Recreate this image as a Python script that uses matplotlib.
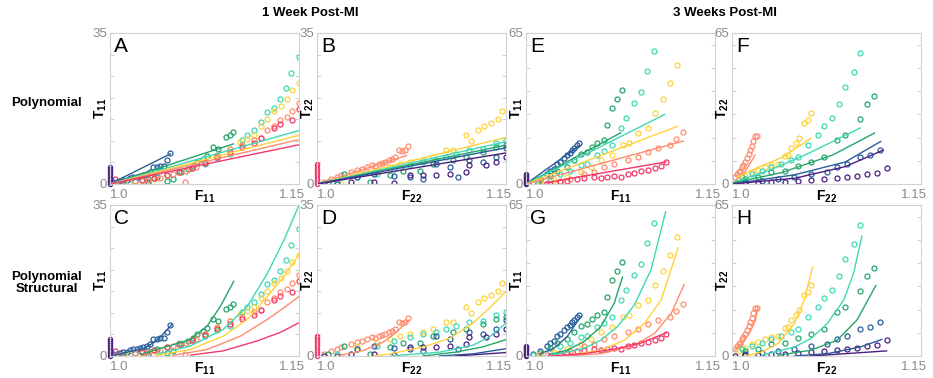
import matplotlib.pyplot as plt

plt.rcParams['font.family'] = ['Liberation Sans', 'DejaVu Sans']
plt.rcParams['mathtext.fontset'] = 'custom'
plt.rcParams['mathtext.rm'] = 'Liberation Sans'
plt.rcParams['mathtext.bf'] = 'Liberation Sans:bold'

colors = {'purple': '#4b1f82', 'blue': '#2a5d9c', 'green': '#25a56a',
          'teal': '#3ed9b5', 'yellow': '#ffd23a', 'salmon': '#ff8c6e',
          'pink': '#f2386a'}
gray = '#8a8a8a'

# ---- measured points, 1 week, T11 vs F11 (panels A, C)
w1_11 = {
    'blue': [(1.0027, 0.39), (1.0053, 0.54), (1.008, 0.78), (1.0106, 0.93), (1.0133, 1.0),
             (1.016, 1.32), (1.0186, 1.56), (1.0212, 1.71), (1.0239, 1.79), (1.0265, 2.18),
             (1.0292, 2.33), (1.0305, 0.5), (1.0319, 2.72), (1.0345, 3.89), (1.0372, 4.05),
             (1.0398, 4.28), (1.0425, 4.28), (1.0451, 5.45), (1.0478, 7.16)],
    'green': [(1.01, 0.3), (1.02, 0.8), (1.03, 1.2), (1.037, 1.6), (1.045, 0.8), (1.05, 1.2),
              (1.056, 2.7), (1.062, 3.5), (1.066, 4.2), (1.069, 5.1), (1.074, 5.8),
              (1.077, 6.6), (1.082, 8.6), (1.086, 8.2), (1.092, 10.9), (1.095, 11.3),
              (1.098, 12.1)],
    'teal': [(1.005, 0.2), (1.015, 0.5), (1.025, 1.0), (1.035, 1.5), (1.045, 2.2),
             (1.055, 3.0), (1.065, 3.8), (1.075, 4.6), (1.085, 6.0), (1.095, 7.0),
             (1.1049, 10.1), (1.1089, 11.3), (1.1142, 12.6), (1.1195, 14.4), (1.1248, 16.7),
             (1.1301, 17.7), (1.135, 19.7), (1.1394, 22.2), (1.1434, 25.7), (1.15, 29.4)],
    'yellow': [(1.015, 0.4), (1.025, 0.8), (1.035, 1.2), (1.045, 2.0), (1.055, 2.8),
               (1.065, 3.8), (1.075, 5.0), (1.085, 6.5), (1.095, 8.0), (1.1035, 9.8),
               (1.1089, 10.5), (1.1142, 11.3), (1.1195, 13.4), (1.1248, 15.0),
               (1.1301, 17.0), (1.1354, 18.0), (1.1402, 19.8), (1.1447, 21.8), (1.15, 23.5)],
    'salmon': [(1.008, 0.3), (1.02, 0.6), (1.03, 1.0), (1.04, 1.5), (1.05, 2.3),
               (1.0597, 0.4), (1.06, 3.0), (1.068, 4.0), (1.075, 5.2), (1.085, 6.8),
               (1.095, 8.0), (1.105, 9.0), (1.1142, 10.1), (1.1195, 10.7), (1.1248, 12.6),
               (1.1301, 13.4), (1.1349, 14.9), (1.1402, 15.6), (1.1447, 17.0), (1.15, 18.7)],
    'pink': [(1.004, 1.2), (1.025, 1.0), (1.035, 1.5), (1.045, 2.0), (1.055, 2.8),
             (1.065, 3.8), (1.075, 4.8), (1.085, 6.3), (1.095, 7.5), (1.105, 8.5),
             (1.114, 9.6), (1.1195, 10.6), (1.13, 12.9), (1.1349, 13.8), (1.1447, 14.9),
             (1.15, 17.3)],
}
w1_11_stack = ('purple', [0.0, 0.5, 1.0, 1.5, 2.0, 2.5, 3.0, 3.5, 3.9])

# ---- measured points, 1 week, T22 vs F22 (panels B, D)
w1_22 = {
    'salmon': [(1.0058, 0.4), (1.011, 1.2), (1.0162, 1.6), (1.0189, 2.0), (1.0267, 2.7),
               (1.032, 3.3), (1.0359, 3.5), (1.0398, 3.9), (1.0438, 4.3), (1.0464, 4.1),
               (1.049, 4.7), (1.0516, 4.8), (1.0542, 5.1), (1.0569, 5.5), (1.0595, 5.9),
               (1.0621, 6.2), (1.0647, 7.8), (1.0673, 7.7), (1.07, 7.8), (1.0726, 8.8)],
    'yellow': [(1.0189, 0.0), (1.032, 2.3), (1.0477, 3.1), (1.0582, 3.9), (1.066, 4.7),
               (1.0739, 5.1), (1.0844, 5.6), (1.0922, 6.2), (1.1027, 7.8), (1.1079, 7.8),
               (1.1184, 11.3), (1.1224, 10.0), (1.1276, 12.5), (1.1328, 13.4),
               (1.1381, 14.1), (1.1433, 15.0), (1.1472, 17.0)],
    'teal': [(1.0162, 0.4), (1.032, 1.6), (1.0477, 2.3), (1.0608, 3.5), (1.0739, 4.3),
             (1.0844, 5.1), (1.0948, 5.5), (1.1027, 6.2), (1.1106, 7.0), (1.121, 7.8),
             (1.1315, 8.2), (1.142, 9.5), (1.1499, 10.2)],
    'green': [(1.0084, 0.4), (1.0215, 2.3), (1.0424, 0.5), (1.0582, 2.0), (1.0686, 3.1),
              (1.0817, 3.1), (1.0922, 4.7), (1.1079, 5.5), (1.1184, 6.2), (1.1315, 7.4),
              (1.142, 8.6), (1.1499, 9.0)],
    'blue': [(1.0162, 0.0), (1.032, 1.6), (1.0451, 2.3), (1.0608, 1.9), (1.0739, 1.6),
             (1.0844, 1.2), (1.0948, 4.7), (1.1053, 3.9), (1.1119, 1.6), (1.121, 5.5),
             (1.1315, 5.1), (1.142, 6.2), (1.1499, 8.4)],
    'purple': [(1.0058, 0.0), (1.0267, 0.4), (1.0451, 0.4), (1.0608, 0.3), (1.0739, 2.0),
               (1.0844, 2.2), (1.0948, 2.2), (1.1053, 2.3), (1.1184, 2.7), (1.121, 4.5),
               (1.1341, 4.5), (1.142, 5.1), (1.1499, 6.2)],
}
w1_22_stack = ('pink', [0.0, 0.5, 1.0, 1.5, 2.0, 2.5, 3.0, 3.5, 4.0, 4.4, 4.7])

# ---- measured points, 3 weeks, T11 vs F11 (panels E, G)
w3_11 = {
    'blue': [(1.0059, 0.7), (1.0112, 2.2), (1.0166, 4.4), (1.0192, 5.5), (1.0219, 6.6),
             (1.0246, 8.5), (1.0272, 9.5), (1.0299, 11.0), (1.0326, 12.4), (1.0352, 13.4),
             (1.0366, 14.6), (1.0379, 15.3), (1.0406, 16.8), (1.0419, 17.5)],
    'green': [(1.0112, 1.5), (1.0192, 3.65), (1.0246, 5.5), (1.0326, 7.3), (1.0379, 10.2),
              (1.0433, 13.1), (1.0486, 13.9), (1.0526, 16.1), (1.0566, 17.5),
              (1.0619, 19.0), (1.0646, 25.6), (1.0686, 32.9), (1.0726, 36.5), (1.0758, 40.6)],
    'teal': [(1.0059, 0.3), (1.0192, 2.2), (1.0272, 4.1), (1.0352, 5.8), (1.0433, 8.0),
             (1.0486, 8.8), (1.0566, 12.4), (1.0619, 14.3), (1.0686, 16.8), (1.0753, 24.1),
             (1.0793, 28.5), (1.086, 34.7), (1.0913, 39.7), (1.0958, 48.5), (1.1015, 57.4)],
    'yellow': [(1.0112, 0.7), (1.0219, 1.75), (1.0326, 3.2), (1.0433, 5.1), (1.0513, 7.3),
               (1.0593, 10.2), (1.0686, 12.4), (1.0766, 16.8), (1.082, 17.5), (1.0886, 21.9),
               (1.0966, 24.1), (1.102, 30.7), (1.1087, 36.8), (1.114, 43.4), (1.1202, 51.1)],
    'salmon': [(1.0166, 0.3), (1.0272, 1.5), (1.0352, 2.2), (1.0459, 4.1), (1.0539, 5.1),
               (1.0619, 7.3), (1.07, 8.5), (1.0806, 10.2), (1.0886, 11.7), (1.0966, 13.9),
               (1.1047, 15.3), (1.114, 16.8), (1.119, 19.3), (1.1247, 22.2)],
    'pink': [(1.0192, 0.0), (1.0272, 0.7), (1.0326, 1.2), (1.0406, 2.2), (1.0459, 2.5),
             (1.0539, 2.9), (1.0593, 2.6), (1.0646, 2.9), (1.07, 3.65), (1.0753, 3.2),
             (1.0806, 4.4), (1.086, 4.7), (1.0913, 5.8), (1.0966, 6.1), (1.102, 7.0),
             (1.1073, 7.6), (1.1113, 9.5)],
}
w3_11_stack = ('purple', [0.0, 0.5, 1.0, 1.5, 2.0, 2.5, 3.0, 3.5, 4.0, 4.4])

# ---- measured points, 3 weeks, T22 vs F22 (panels F, H)
w3_22 = {
    'salmon': [(1.0026, 2.9), (1.0039, 4.4), (1.0052, 5.1), (1.0065, 5.8), (1.0078, 7.3),
               (1.0091, 8.0), (1.0104, 9.5), (1.0117, 11.0), (1.0131, 13.1), (1.0144, 14.6),
               (1.0157, 16.4), (1.017, 18.3), (1.0183, 20.7), (1.0196, 20.7)],
    'yellow': [(1.0052, 2.2), (1.0104, 3.65), (1.0157, 5.1), (1.0209, 6.1), (1.0261, 7.3),
               (1.0313, 8.0), (1.0365, 8.8), (1.0418, 12.0), (1.0444, 12.4), (1.047, 15.3),
               (1.0509, 17.5), (1.0535, 19.7), (1.0574, 26.3), (1.06, 27.7), (1.0626, 30.7)],
    'teal': [(1.0078, 2.9), (1.0157, 4.4), (1.0235, 5.8), (1.0313, 7.3), (1.0392, 8.8),
             (1.047, 10.2), (1.0522, 11.7), (1.06, 16.8), (1.0679, 21.2), (1.0731, 25.1),
             (1.0796, 28.5), (1.0848, 34.3), (1.09, 41.6), (1.0966, 48.2), (1.1018, 56.2)],
    'green': [(1.0104, 2.2), (1.0209, 3.2), (1.0313, 5.1), (1.0418, 5.8), (1.0522, 7.6),
              (1.0626, 9.5), (1.0731, 11.7), (1.0835, 19.0), (1.09, 21.2), (1.1018, 28.0),
              (1.1075, 34.3), (1.113, 37.9)],
    'blue': [(1.0104, 0.7), (1.0235, 1.5), (1.0365, 2.2), (1.0496, 2.9), (1.0626, 4.1),
             (1.0757, 5.1), (1.0835, 7.3), (1.0914, 8.8), (1.1018, 11.7), (1.1096, 12.4),
             (1.1175, 14.6)],
    'purple': [(1.0026, 0.0), (1.0104, 0.3), (1.0209, 0.4), (1.0313, 0.7), (1.0418, 1.0),
               (1.0522, 1.5), (1.0626, 1.75), (1.0731, 2.0), (1.0835, 2.6), (1.0914, 2.9),
               (1.0992, 3.65), (1.107, 4.1), (1.1149, 4.7), (1.1227, 6.9)],
}

# ---- fitted curves
fit_A = {
    'blue': [(1.0, 0.0), (1.048, 7.0)],
    'green': [(1.0, 0.0), (1.098, 9.3)],
    'teal': [(1.0, 0.0), (1.15, 12.4)],
    'yellow': [(1.0, 0.0), (1.15, 11.3)],
    'salmon': [(1.0, 0.0), (1.15, 10.3)],
    'pink': [(1.0, 0.0), (1.15, 9.1)],
}
fit_B = {
    'salmon': [(1.0, 0.0), (1.071, 6.6)],
    'yellow': [(1.0, 0.0), (1.15, 10.8)],
    'teal': [(1.0, 0.0), (1.15, 9.8)],
    'green': [(1.0, 0.0), (1.15, 9.0)],
    'blue': [(1.0, 0.0), (1.15, 8.4)],
    'purple': [(1.0, 0.0), (1.15, 7.2)],
}
fit_C = {
    'blue': [(1.0, 0.0), (1.0265, 1.7), (1.037, 3.5), (1.0491, 7.3)],
    'green': [(1.024, 0.4), (1.0637, 3.8), (1.077, 6.9), (1.0876, 11.5), (1.0982, 17.3)],
    'teal': [(1.037, 0.4), (1.0637, 2.3), (1.09, 6.2), (1.109, 11.5), (1.125, 19.2),
             (1.1381, 26.9), (1.15, 35.0)],
    'yellow': [(1.037, 0.15), (1.0637, 1.5), (1.09, 4.6), (1.109, 8.5), (1.125, 13.8),
               (1.1381, 18.5), (1.15, 23.5)],
    'salmon': [(1.05, 0.15), (1.077, 1.5), (1.1035, 4.6), (1.125, 8.5), (1.1381, 11.2),
               (1.15, 13.8)],
    'pink': [(1.064, 0.2), (1.09, 1.2), (1.1168, 3.5), (1.1354, 5.5), (1.15, 7.7)],
}
fit_D = {
    'salmon': [(1.0189, 0.2), (1.0372, 1.3), (1.053, 3.3), (1.0634, 5.6), (1.0726, 8.3)],
    'yellow': [(1.045, 0.0), (1.0582, 0.5), (1.0844, 2.1), (1.1053, 4.1), (1.1237, 7.6),
               (1.1368, 11.1), (1.15, 15.0)],
    'teal': [(1.058, 0.0), (1.0975, 0.9), (1.1237, 2.5), (1.1368, 4.4), (1.15, 7.6)],
    'green': [(1.084, 0.0), (1.11, 0.9), (1.1315, 2.1), (1.15, 3.8)],
    'blue': [(1.097, 0.0), (1.124, 0.5), (1.15, 1.7)],
    'purple': [(1.11, 0.0), (1.15, 0.8)],
}
fit_E = {
    'blue': [(1.0, 0.0), (1.042, 16.4)],
    'green': [(1.0, 0.0), (1.075, 22.0)],
    'teal': [(1.0, 0.0), (1.11, 29.9)],
    'yellow': [(1.0, 0.0), (1.12, 24.8)],
    'salmon': [(1.0, 0.0), (1.125, 18.5)],
    'pink': [(1.015, 0.5), (1.111, 9.5)],
}
fit_F = {
    'salmon': [(1.002, 1.0), (1.01, 5.0), (1.0183, 12.4)],
    'yellow': [(1.004, 2.9), (1.02, 7.0), (1.04, 11.5), (1.0626, 19.7)],
    'teal': [(1.0, 0.5), (1.03, 6.0), (1.06, 13.0), (1.1018, 24.1)],
    'green': [(1.0, 0.3), (1.04, 5.0), (1.08, 12.5), (1.113, 21.9)],
    'blue': [(1.0, 0.0), (1.05, 4.0), (1.09, 9.5), (1.118, 18.3)],
    'purple': [(1.0, 0.0), (1.05, 2.5), (1.09, 7.5), (1.12, 14.6)],
}
fit_G = {
    'blue': [(1.0112, 1.0), (1.0219, 3.2), (1.0326, 8.3), (1.0433, 16.9)],
    'green': [(1.0192, 0.7), (1.0326, 2.5), (1.0459, 6.1), (1.0593, 12.6), (1.07, 22.7),
              (1.0766, 34.0)],
    'teal': [(1.0192, 0.3), (1.0459, 3.2), (1.0593, 6.8), (1.0726, 12.6), (1.086, 22.0),
             (1.0993, 37.2), (1.1108, 62.1)],
    'yellow': [(1.0326, 0.3), (1.0593, 2.5), (1.078, 6.8), (1.094, 14.0), (1.1073, 24.2),
               (1.1207, 46.6)],
    'salmon': [(1.0326, 0.0), (1.0593, 1.0), (1.086, 4.6), (1.102, 9.7), (1.1153, 18.4),
               (1.1255, 30.7)],
    'pink': [(1.0192, 0.0), (1.0459, 1.0), (1.0726, 3.2), (1.0913, 5.6), (1.1113, 10.0)],
}
fit_H = {
    'salmon': [(1.0026, 2.5), (1.0091, 6.1), (1.0144, 10.4), (1.0183, 14.8), (1.0204, 20.6)],
    'yellow': [(1.0104, 0.0), (1.0235, 1.7), (1.0365, 5.4), (1.0496, 14.0), (1.0574, 24.2),
               (1.064, 38.4)],
    'teal': [(1.0235, 0.3), (1.0496, 3.9), (1.0626, 7.5), (1.0757, 14.0), (1.0888, 24.2),
             (1.0966, 35.8), (1.1031, 51.7)],
    'green': [(1.0365, 0.3), (1.0626, 2.5), (1.0835, 6.8), (1.0992, 15.5), (1.1141, 30.3)],
    'blue': [(1.0496, 0.0), (1.0757, 1.0), (1.1018, 3.9), (1.1188, 7.1)],
    'purple': [(1.0626, 0.0), (1.1227, 2.2)],
}

# panel layout in pixels (left, top) on a 933x378 canvas
W, H = 933, 378
col_left = [110, 317, 526, 732]
row_top = [33, 205]
ax_w, ax_h = 189, 151

panels = [
    ('A', 0, 0, w1_11, w1_11_stack, fit_A, 35, '11'),
    ('B', 0, 1, w1_22, w1_22_stack, fit_B, 35, '22'),
    ('E', 0, 2, w3_11, w3_11_stack, fit_E, 65, '11'),
    ('F', 0, 3, w3_22, None, fit_F, 65, '22'),
    ('C', 1, 0, w1_11, w1_11_stack, fit_C, 35, '11'),
    ('D', 1, 1, w1_22, w1_22_stack, fit_D, 35, '22'),
    ('G', 1, 2, w3_11, w3_11_stack, fit_G, 65, '11'),
    ('H', 1, 3, w3_22, None, fit_H, 65, '22'),
]

fig = plt.figure(figsize=(W / 100, H / 100), dpi=100)

for letter, r, c, pts, stack, fit, ymax, sub in panels:
    left = col_left[c] / W
    bottom = 1 - (row_top[r] + ax_h) / H
    ax = fig.add_axes([left, bottom, ax_w / W, ax_h / H])

    for name, p in pts.items():
        xs, ys = zip(*p)
        ax.plot(xs, ys, 'o', mfc='none', mec=colors[name], ms=3.6, mew=0.9)
    if stack is not None:
        name, ys = stack
        ax.plot([1.0] * len(ys), ys, 'o', mfc='none', mec=colors[name], ms=3.0,
                mew=0.9, clip_on=False)
    for name, p in fit.items():
        xs, ys = zip(*p)
        ax.plot(xs, ys, '-', color=colors[name], lw=1.0)

    ax.set_xlim(1.0, 1.15)
    ax.set_ylim(0, ymax)
    # x tick labels drawn as text so "1.15" can sit clear of the next panel's "0"
    ax.set_xticks([])
    ax.text(0.0, -0.03, '1.0', transform=ax.transAxes, ha='left', va='top',
            color=gray, fontsize=9.5)
    ax.text(1.03, -0.03, '1.15', transform=ax.transAxes, ha='right', va='top',
            color=gray, fontsize=9.5)
    ax.set_yticks([0, ymax])
    ax.set_yticklabels(['0', str(ymax)], color=gray, fontsize=9.5)
    step = 5 if ymax == 35 else 10
    ax.set_yticks(list(range(step, ymax, step)), minor=True)
    ax.tick_params(axis='y', which='both', direction='in', left=True, right=True,
                   length=3, color='#c8c8c8', pad=2)
    for s in ax.spines.values():
        s.set_color('#d2d2d2')
        s.set_linewidth(0.8)

    ax.text(0.02, 0.975, letter, transform=ax.transAxes, fontsize=15,
            va='top', ha='left')
    ax.text(-0.05, 0.5, r'$\mathbf{T_{%s}}$' % sub, transform=ax.transAxes,
            rotation=90, va='center', ha='center', fontsize=10)
    ax.text(0.5, -0.03, r'$\mathbf{F_{%s}}$' % sub, transform=ax.transAxes,
            va='top', ha='center', fontsize=10)

fig.text(310 / W, 1 - 13 / H, '1 Week Post-MI', ha='center', va='center',
         fontsize=9.5, fontweight='bold')
fig.text(725 / W, 1 - 13 / H, '3 Weeks Post-MI', ha='center', va='center',
         fontsize=9.5, fontweight='bold')
fig.text(47 / W, 1 - 103 / H, 'Polynomial', ha='center', va='center',
         fontsize=9.5, fontweight='bold')
fig.text(47 / W, 1 - 283 / H, 'Polynomial\nStructural', ha='center', va='center',
         fontsize=9.5, fontweight='bold', linespacing=1.1)

fig.savefig('out.png', dpi=100)
